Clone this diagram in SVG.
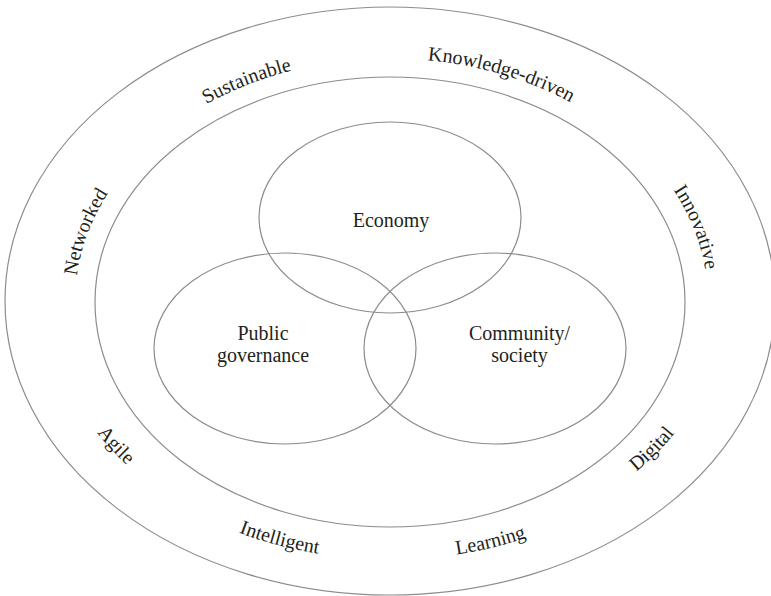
<svg xmlns="http://www.w3.org/2000/svg" xmlns:xlink="http://www.w3.org/1999/xlink" width="771" height="596" viewBox="0 0 771 596">
  <style>
    .ring { fill: none; stroke: #8c8c8c; stroke-width: 1.2; }
    .lbl { font-family: "Liberation Serif", "DejaVu Serif", serif; font-size: 20px; fill: #231f20; }
    .mid { text-anchor: middle; }
  </style>
  <defs>
    <path id="topArc" d="M 75 301.5 A 315 243 0 0 1 705 301.5"/>
    <path id="bottomArc" d="M 50 301.5 A 340 258 0 0 0 730 301.5"/>
  </defs>
  <rect width="771" height="596" fill="#ffffff"/>

  <g id="outer-ring">
    <ellipse class="ring" cx="390" cy="301" rx="385" ry="294"/>
  </g>
  <g id="inner-ring">
    <ellipse class="ring" cx="390" cy="302" rx="295" ry="225"/>
  </g>

  <g id="ring-labels" class="lbl mid">
    <text><textPath xlink:href="#topArc" href="#topArc" startOffset="8%">Networked</textPath></text>
    <text><textPath xlink:href="#topArc" href="#topArc" startOffset="33.5%">Sustainable</textPath></text>
    <text><textPath xlink:href="#topArc" href="#topArc" startOffset="62.8%">Knowledge-driven</textPath></text>
    <text dy="-3"><textPath xlink:href="#topArc" href="#topArc" startOffset="91.6%">Innovative</textPath></text>
    <text><textPath xlink:href="#bottomArc" href="#bottomArc" startOffset="17.4%">Agile</textPath></text>
    <text><textPath xlink:href="#bottomArc" href="#bottomArc" startOffset="38%">Intelligent</textPath></text>
    <text><textPath xlink:href="#bottomArc" href="#bottomArc" startOffset="60.9%">Learning</textPath></text>
    <text dy="-6"><textPath xlink:href="#bottomArc" href="#bottomArc" startOffset="81.4%">Digital</textPath></text>
  </g>

  <g id="economy">
    <ellipse class="ring" cx="390" cy="217.5" rx="131" ry="95.5"/>
    <text class="lbl mid" x="391" y="227">Economy</text>
  </g>
  <g id="public-governance">
    <ellipse class="ring" cx="285" cy="348.5" rx="131" ry="95.5"/>
    <text class="lbl mid" x="263" y="340">Public</text>
    <text class="lbl mid" x="263" y="362">governance</text>
  </g>
  <g id="community-society">
    <ellipse class="ring" cx="495" cy="348.5" rx="131" ry="95.5"/>
    <text class="lbl mid" x="519.5" y="340">Community/</text>
    <text class="lbl mid" x="519.5" y="362">society</text>
  </g>
  <g id="connectors"></g>
</svg>
